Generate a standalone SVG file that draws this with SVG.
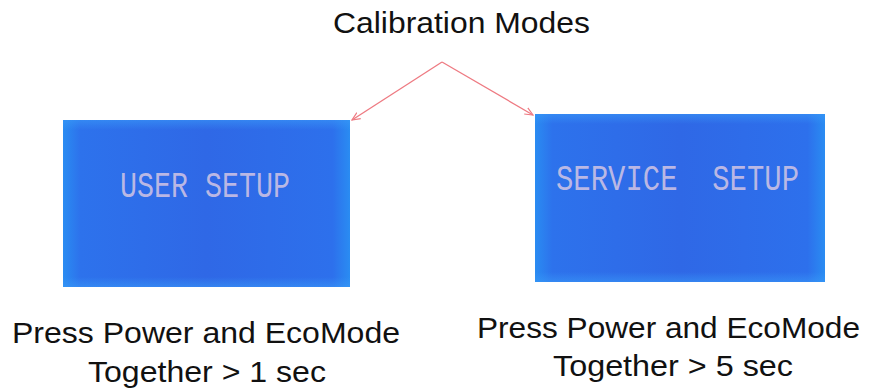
<svg xmlns="http://www.w3.org/2000/svg" width="871" height="390" viewBox="0 0 871 390">
  <style>
    .lbl { font-family: "Liberation Sans", Arial, sans-serif; font-size: 30px; fill: #111; }
    .lcd { font-family: "Liberation Mono", "DejaVu Sans Mono", monospace; font-size: 37px; fill: #d4c6e4; fill-opacity: 0.85; }
    .conn { stroke: #ee7a82; stroke-width: 1.3; fill: none; }
  </style>
  <defs>
    <linearGradient id="edge" x1="0" y1="0" x2="1" y2="0">
      <stop offset="0" stop-color="#2a8cf2"/>
      <stop offset="0.06" stop-color="#2d72ec"/>
      <stop offset="0.5" stop-color="#2f68e6"/>
      <stop offset="0.94" stop-color="#2d70ec"/>
      <stop offset="1" stop-color="#2a8cf2"/>
    </linearGradient>
    <linearGradient id="vert" x1="0" y1="0" x2="0" y2="1">
      <stop offset="0" stop-color="#3a9af8" stop-opacity="0.55"/>
      <stop offset="0.06" stop-color="#3a9af8" stop-opacity="0"/>
      <stop offset="0.94" stop-color="#3a9af8" stop-opacity="0"/>
      <stop offset="1" stop-color="#3a9af8" stop-opacity="0.55"/>
    </linearGradient>
    <marker id="ah" viewBox="0 0 10 10" refX="9" refY="5" markerWidth="9" markerHeight="9" orient="auto" markerUnits="userSpaceOnUse">
      <path d="M0,1 L9,5 L0,9" fill="none" stroke="#ee7a82" stroke-width="1.3"/>
    </marker>
  </defs>
  <rect width="871" height="390" fill="#ffffff"/>

  <g id="title">
    <text class="lbl" x="333" y="33" textLength="257" lengthAdjust="spacingAndGlyphs">Calibration Modes</text>
  </g>

  <g id="connectors">
    <line class="conn" x1="442" y1="62" x2="352" y2="120" marker-end="url(#ah)"/>
    <line class="conn" x1="442" y1="62" x2="533" y2="115" marker-end="url(#ah)"/>
  </g>

  <g id="user-setup">
    <rect x="63" y="120" width="287" height="167" fill="url(#edge)"/>
    <rect x="63" y="120" width="287" height="167" fill="url(#vert)"/>
    <text class="lcd" x="120" y="197" textLength="170" lengthAdjust="spacingAndGlyphs">USER SETUP</text>
  </g>

  <g id="service-setup">
    <rect x="535" y="114" width="290" height="168" fill="url(#edge)"/>
    <rect x="535" y="114" width="290" height="168" fill="url(#vert)"/>
    <text class="lcd" x="556" y="190" textLength="243" lengthAdjust="spacingAndGlyphs" xml:space="preserve">SERVICE  SETUP</text>
  </g>

  <g id="caption-left">
    <text class="lbl" x="12" y="343" textLength="388" lengthAdjust="spacingAndGlyphs">Press Power and EcoMode</text>
    <text class="lbl" x="88" y="382" textLength="238" lengthAdjust="spacingAndGlyphs">Together &gt; 1 sec</text>
  </g>

  <g id="caption-right">
    <text class="lbl" x="477" y="338" textLength="383" lengthAdjust="spacingAndGlyphs">Press Power and EcoMode</text>
    <text class="lbl" x="553" y="376" textLength="240" lengthAdjust="spacingAndGlyphs">Together &gt; 5 sec</text>
  </g>
</svg>
